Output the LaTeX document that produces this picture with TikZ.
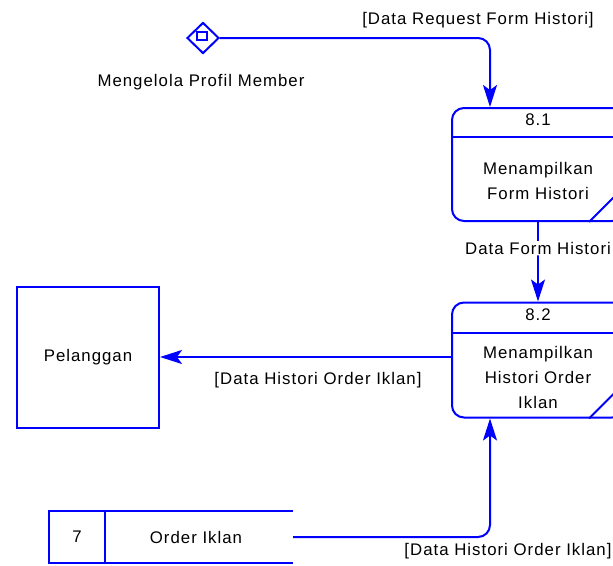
\documentclass[tikz,border=0pt]{standalone}
\usepackage{fontspec}
\setmainfont{Liberation Sans}[LetterSpace=6]
\usetikzlibrary{shapes.geometric, arrows.meta, positioning, calc}

\tikzset{
  txt/.style={font=\fontsize{16.8}{25}\selectfont, inner sep=1pt},
  proc/.style={draw=blue, line width=2pt, rounded corners=12pt,
    minimum width=172pt, inner sep=0pt},
  flow/.style={draw=blue, line width=2pt, rounded corners=12pt,
    -{Stealth[length=22pt, width=14pt, inset=5pt]}},
  storeline/.style={draw=blue, line width=1.6pt},
}

\begin{document}
\begin{tikzpicture}[x=1pt, y=-1pt]
\clip (0,0) rectangle (613,565);

% sumber
\node[draw=blue, line width=2pt, diamond, inner sep=0pt,
  minimum width=32pt, minimum height=31pt] (member) at (203,38) {};
\node[draw=blue, line width=1.6pt, inner sep=0pt,
  minimum width=10pt, minimum height=8pt] (memberbox) at (202,36) {};
\node[txt] (membername) at (201,82) {Mengelola Profil Member};

% proses 8.1
\node[proc, minimum height=113pt] (p81) at (538,164.5) {};
\draw[blue, line width=2pt] ([yshift=-30pt]p81.north west) -- ([yshift=-30pt]p81.north east);
\draw[blue, line width=2pt] ([xshift=-36pt]p81.south east) -- ([yshift=36pt]p81.south east);
\node[txt, below = 6pt of p81.north] (p81id) {8.1};
\node[txt, align=center] (p81name) at (538,181) {Menampilkan\\Form Histori};

% proses 8.2
\node[proc, minimum height=115pt] (p82) at (538,360) {};
\draw[blue, line width=2pt] ([yshift=-31pt]p82.north west) -- ([yshift=-31pt]p82.north east);
\draw[blue, line width=2pt] ([xshift=-36pt]p82.south east) -- ([yshift=36pt]p82.south east);
\node[txt, below = 6pt of p82.north] (p82id) {8.2};
\node[txt, align=center] (p82name) at (538,377) {Menampilkan\\Histori Order\\Iklan};

% entitas
\node[draw=blue, line width=2pt, minimum width=142pt, minimum height=141pt,
  txt] (cust) at (88,357) {Pelanggan};

% data store
\node[minimum width=244pt, minimum height=52pt, inner sep=0pt] (store) at (171,537) {};
\draw[storeline] (store.north east) -- (store.north west) -- (store.south west) -- (store.south east);
\draw[storeline] ([xshift=56pt]store.north west) -- ([xshift=56pt]store.south west);
\node[txt] (storeid) at (77,537) {7};
\node[txt] (storename) at (196,537) {Order Iklan};

% aliran data
\draw[flow] (member.east) -| ([xshift=39pt]p81.north west);
\node[txt] (f1) at (478,20) {[Data Request Form Histori]};

\draw[flow] (p81.south) -- (p82.north)
  node[pos=0.33, txt, fill=white] (f2) {Data Form Histori};

\draw[flow] (p82.west |- cust.east) -- (cust.east);
\node[txt] (f3) at (318,380) {[Data Histori Order Iklan]};

\draw[flow] (store.east) -| ([xshift=39pt]p82.south west);
\node[txt] (f4) at (508,551) {[Data Histori Order Iklan]};

\end{tikzpicture}
\end{document}
